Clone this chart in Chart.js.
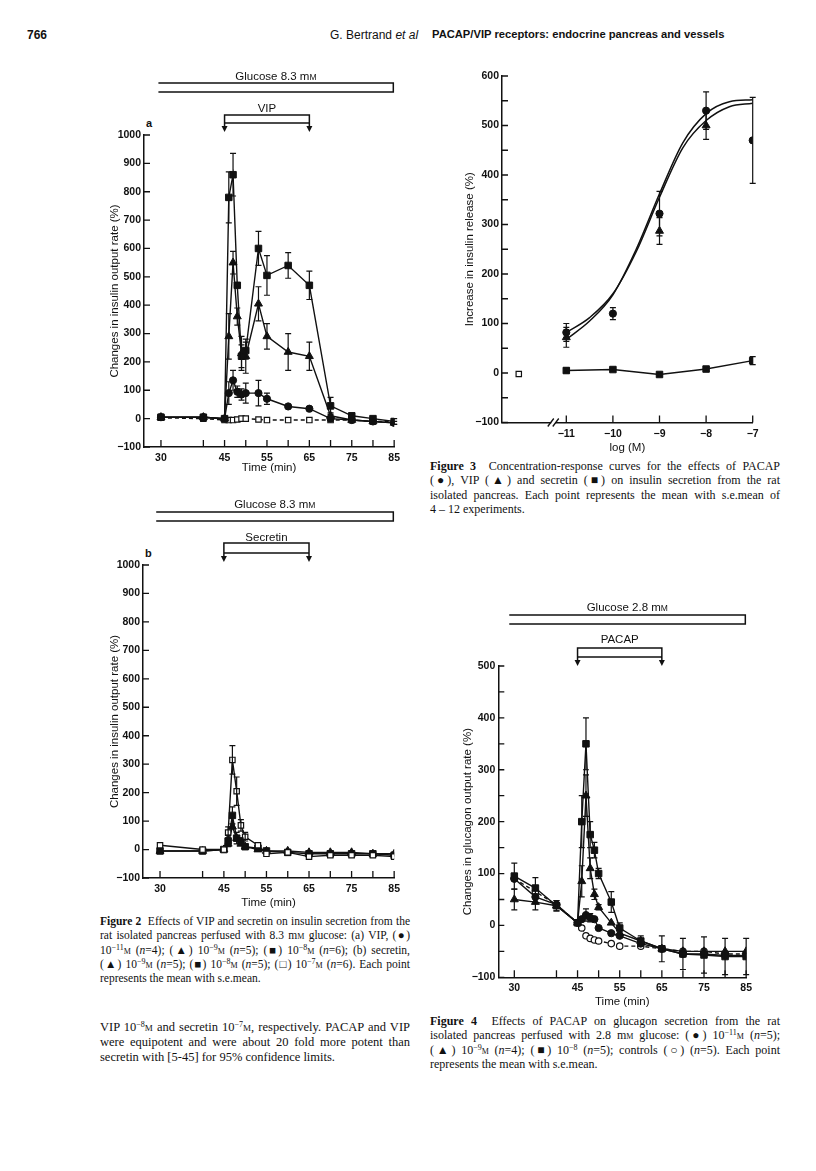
<!DOCTYPE html>
<html>
<head>
<meta charset="utf-8">
<script src="https://cdn.jsdelivr.net/npm/chart.js@4.4.0/dist/chart.umd.min.js"></script>
<style>
  body { margin: 0; background: #fff; }
  #page { position: relative; width: 816px; height: 1171px; overflow: hidden; color: #111; }
  canvas { position: absolute; }
  .hd { position: absolute; font-family: "Liberation Sans", Arial, sans-serif; white-space: nowrap; }
  .cap { position: absolute; font-family: "Liberation Serif", "Times New Roman", serif; font-size: 12px; line-height: 14.3px; }
  .cap div { white-space: nowrap; text-align: justify; text-align-last: justify; }
  .cap div.last { text-align: left; text-align-last: left; }
  .sc { font-variant: small-caps; }
  sup { font-size: 8px; line-height: 0; vertical-align: 4px; }
  .lbl { position: absolute; font-family: "Liberation Sans", Arial, sans-serif; font-weight: bold; font-size: 11px; }
</style>
</head>
<body>
<div id="page">
  <div class="hd" style="left:27px; top:28px; font-size:12px; font-weight:bold;">766</div>
  <div class="hd" style="left:330px; top:28px; font-size:12px;">G. Bertrand <i>et al</i></div>
  <div class="hd" style="left:432px; top:28px; font-size:11.2px; font-weight:bold;">PACAP/VIP receptors: endocrine pancreas and vessels</div>

  <div class="lbl" style="left:146px; top:117px;">a</div>
  <div class="lbl" style="left:145px; top:547px;">b</div>

  <canvas id="figA" width="307" height="410" style="left:98px; top:65px;"></canvas>
  <canvas id="figB" width="307" height="415" style="left:98px; top:495px;"></canvas>
  <canvas id="fig3" width="316" height="395" style="left:452px; top:60px;"></canvas>
  <canvas id="fig4" width="307" height="419" style="left:450px; top:590px;"></canvas>

  <div class="cap" style="left:100px; top:914px; width:310px; font-size:11.5px;">
    <div><b>Figure 2</b>&nbsp; Effects of VIP and secretin on insulin secretion from the</div>
    <div>rat isolated pancreas perfused with 8.3 m<span class="sc">m</span> glucose: (a) VIP, (●)</div>
    <div>10<sup>−11</sup><span class="sc">m</span> (<i>n</i>=4); (▲) 10<sup>−9</sup><span class="sc">m</span> (<i>n</i>=5); (■) 10<sup>−8</sup><span class="sc">m</span> (<i>n</i>=6); (b) secretin,</div>
    <div>(▲) 10<sup>−9</sup><span class="sc">m</span> (<i>n</i>=5); (■) 10<sup>−8</sup><span class="sc">m</span> (<i>n</i>=5); (□) 10<sup>−7</sup><span class="sc">m</span> (<i>n</i>=6). Each point</div>
    <div class="last">represents the mean with s.e.mean.</div>
  </div>

  <div class="cap" style="left:100px; top:1020px; width:310px; font-size:12.5px; line-height:15px;">
    <div>VIP 10<sup>−8</sup><span class="sc">m</span> and secretin 10<sup>−7</sup><span class="sc">m</span>, respectively. PACAP and VIP</div>
    <div>were equipotent and were about 20 fold more potent than</div>
    <div class="last">secretin with [5-45] for 95% confidence limits.</div>
  </div>

  <div class="cap" style="left:430px; top:459px; width:350px;">
    <div><b>Figure 3</b>&nbsp; Concentration-response curves for the effects of PACAP</div>
    <div>(●), VIP (▲) and secretin (■) on insulin secretion from the rat</div>
    <div>isolated pancreas. Each point represents the mean with s.e.mean of</div>
    <div class="last">4 – 12 experiments.</div>
  </div>

  <div class="cap" style="left:430px; top:1014px; width:350px;">
    <div><b>Figure 4</b>&nbsp; Effects of PACAP on glucagon secretion from the rat</div>
    <div>isolated pancreas perfused with 2.8 m<span class="sc">m</span> glucose: (●) 10<sup>−11</sup><span class="sc">m</span> (<i>n</i>=5);</div>
    <div>(▲) 10<sup>−9</sup><span class="sc">m</span> (<i>n</i>=4); (■) 10<sup>−8</sup> (<i>n</i>=5); controls (○) (<i>n</i>=5). Each point</div>
    <div class="last">represents the mean with s.e.mean.</div>
  </div>
</div>

<script>
// -----------------------------------------------------------------------------
// Data (values in %, times in min)
// -----------------------------------------------------------------------------

// Figure 2a - VIP, insulin output
const timesA = [30, 40, 45, 46, 47, 48, 49, 50, 53, 55, 60, 65, 70, 75, 80, 85];
const vip8A = [5, 5, 0, 780, 860, 470, 220, 240, 600, 505, 540, 470, 45, 10, 0, -10];
const vip8AErr = [10, 8, 0, 90, 75, 0, 40, 30, 60, 70, 45, 50, 30, 8, 8, 10];
const vip9A = [5, 5, 0, 290, 550, 360, 230, 220, 405, 290, 235, 220, 10, -5, -10, -15];
const vip9AErr = [5, 5, 0, 80, 40, 30, 60, 60, 60, 45, 65, 50, 10, 5, 5, 5];
const vip11A = [5, 5, 0, 90, 135, 95, 85, 90, 90, 70, 43, 35, 0, -5, -10, -15];
const vip11AErr = [5, 5, 0, 40, 35, 20, 20, 35, 45, 20, 0, 0, 0, 0, 0, 0];
const ctrlA = [3, 0, -5, -5, -5, -3, 0, 0, -3, -5, -5, -5, -5, -5, -10, -10];
const glucoseA = [29.4, 84.8];
const vipSpan = [45, 65];

// Figure 2b - secretin, insulin output
const timesB = [30, 40, 45, 46, 47, 48, 49, 50, 53, 55, 60, 65, 70, 75, 80, 85];
const sec7B = [15, 0, 0, 60, 315, 205, 85, 45, 15, -15, -10, -25, -20, -20, -20, -25];
const sec7BErr = [0, 0, 0, 20, 50, 50, 20, 15, 0, 0, 0, 0, 0, 0, 0, 0];
const sec8B = [-5, -5, 0, 30, 120, 40, 30, 10, 5, -5, -10, -15, -15, -15, -15, -20];
const sec8BErr = [0, 0, 0, 20, 30, 20, 10, 0, 0, 0, 0, 0, 0, 0, 0, 0];
const sec9B = [-5, -5, 0, 20, 80, 40, 20, 10, 0, -5, -5, -10, -10, -10, -15, -15];
const glucoseB = [29.1, 84.8];
const secretinSpan = [45, 65];

// Figure 3 - concentration-response (log M)
const logConc = [-11, -10, -9, -8, -7];
const pacap3 = [82, 120, 322, 530, 470];
const pacap3Err = [18, 12, 45, 38, 87];
const vip3 = [72, null, 287, 500, null];
const vip3Err = [20, 0, 27, 28, 0];
const secretin3 = [5, 7, -3, 8, 25];
const secretin3Err = [5, 3, 3, 5, 8];
const controlConc = [-12.02];
const control3 = [-2];
const fitConc = [-11, -10.5, -10, -9.5, -9, -8.5, -8, -7.5, -7];
const fitCurve1 = [82, 112, 160, 245, 355, 455, 510, 538, 545];
const fitCurve2 = [68, 105, 158, 250, 362, 465, 524, 548, 552];

// Figure 4 - PACAP, glucagon output
const times4 = [30, 35, 40, 45, 46, 47, 48, 49, 50, 53, 55, 60, 65, 70, 75, 80, 85];
const pacap8 = [95, 72, 38, 5, 200, 350, 175, 145, 100, 45, -5, -30, -45, -55, -57, -60, -60];
const pacap8Err = [25, 20, 10, 0, 50, 50, 25, 15, 10, 20, 10, 10, 25, 30, 35, 35, 35];
const pacap9 = [50, 45, 38, 5, 85, 250, 110, 60, 35, 5, -15, -30, -45, -50, -50, -50, -50];
const pacap9Err = [20, 15, 10, 0, 30, 40, 20, 10, 5, 0, 0, 0, 0, 0, 0, 0, 0];
const pacap11 = [90, 55, 40, 5, 12, 20, 15, 12, -5, -15, -20, -35, -45, -55, -55, -58, -58];
const pacap11Err = [0, 0, 0, 0, 0, 12, 8, 0, 0, 0, 0, 0, 0, 0, 0, 0, 0];
const ctrl4 = [90, 65, 40, 5, -5, -20, -25, -28, -30, -35, -40, -40, -45, -50, -50, -55, -55];
const glucose4 = [28.8, 84.8];
const pacapSpan = [45, 65];

// Axis ticks
const timeTickLabels = [30, 45, 55, 65, 75, 85];
const timeTickMarks = [30, 40, 45, 50, 55, 60, 65, 70, 75, 80, 85];
const insulinTickMarks = [-100, 0, 100, 200, 300, 400, 500, 600, 700, 800, 900, 1000];
const logTickLabels = [-11, -10, -9, -8, -7];
const releaseTickMarks = [-100, -50, 0, 50, 100, 150, 200, 250, 300, 350, 400, 450, 500, 550, 600];
const glucagonTickMarks = [-100, -50, 0, 50, 100, 150, 200, 250, 300, 350, 400, 450, 500];

// -----------------------------------------------------------------------------
// Styling helpers
// -----------------------------------------------------------------------------
const INK = '#111';
Chart.defaults.font.family = "'Liberation Sans', Arial, sans-serif";
Chart.defaults.color = INK;

const fmt = v => (v < 0 ? '\u2212' + Math.abs(v) : String(v));

const SQ = { pointStyle: 'rect', pointRadius: 4.6, pointBackgroundColor: INK };
const TRI = { pointStyle: 'triangle', pointRadius: 4.6, pointBackgroundColor: INK };
const DOT = { pointStyle: 'circle', pointRadius: 3.6, pointBackgroundColor: INK };
const OPEN_SQ = { pointStyle: 'rect', pointRadius: 3.8, pointBackgroundColor: '#fff', pointBorderWidth: 1.2 };
const OPEN_DOT = { pointStyle: 'circle', pointRadius: 3.2, pointBackgroundColor: '#fff', pointBorderWidth: 1.2 };
const DASH = { borderDash: [4, 3] };
const NOLINE = { showLine: false };

function series(xs, ys, errs, ...styles) {
    return Object.assign({
        data: xs.map((x, i) => ({ x: x, y: ys[i] })),
        borderColor: INK,
        backgroundColor: INK,
        borderWidth: 1.4,
        pointBorderColor: INK,
        pointBorderWidth: 1,
        tension: 0,
        errorBars: errs
    }, ...styles);
}

function xAxis(min, max, labels, title, height) {
    return {
        type: 'linear', min: min, max: max,
        grid: { display: false, drawTicks: false },
        border: { display: true, color: INK, width: 1.5 },
        afterBuildTicks: s => { s.ticks = labels.map(v => ({ value: v })); },
        afterFit: s => { s.height = height; },
        ticks: { padding: 5, autoSkip: false, maxRotation: 0, color: INK, font: { size: 10.5, weight: 'bold' }, callback: fmt },
        title: { display: true, text: title, color: INK, font: { size: 11.5 }, padding: 0 }
    };
}

function yAxis(min, max, title, width) {
    return {
        type: 'linear', min: min, max: max,
        grid: { display: false, drawTicks: false },
        border: { display: true, color: INK, width: 1.5 },
        afterFit: s => { s.width = width; },
        ticks: { stepSize: 100, padding: 3, color: INK, font: { size: 10.5, weight: 'bold' }, callback: fmt },
        title: { display: true, text: title, color: INK, font: { size: 11.5 }, padding: 0 }
    };
}

// Extra drawing per canvas: inward tick marks, treatment bars, axis break
const extras = {
    figA: {
        xMarks: timeTickMarks, yMarks: insulinTickMarks,
        treatments: [
            { span: glucoseA, open: true, top: -52, bottom: -43, labelY: -59, label: [['Glucose 8.3 m', 11.5], ['M', 8.5]] },
            { span: vipSpan, top: -20, bottom: -12, arrow: -3, labelY: -27, label: [['VIP', 11.5]] }
        ]
    },
    figB: {
        xMarks: timeTickMarks, yMarks: insulinTickMarks,
        treatments: [
            { span: glucoseB, open: true, top: -53, bottom: -44, labelY: -61, label: [['Glucose 8.3 m', 11.5], ['M', 8.5]] },
            { span: secretinSpan, top: -22, bottom: -12, arrow: -3, labelY: -28, label: [['Secretin', 11.5]] }
        ]
    },
    fig3: {
        xMarks: logTickLabels, yMarks: releaseTickMarks, axisBreak: -11.28
    },
    fig4: {
        xMarks: timeTickMarks, yMarks: glucagonTickMarks,
        treatments: [
            { span: glucose4, open: true, top: -51, bottom: -42, labelY: -59, label: [['Glucose 2.8 m', 11.5], ['M', 8.5]] },
            { span: pacapSpan, top: -18, bottom: -9, arrow: 0, labelY: -27, label: [['PACAP', 11.5]] }
        ]
    }
};

const paperPlugin = {
    id: 'paper',
    afterDatasetsDraw(chart) {
        // s.e.mean bars
        const ctx = chart.ctx;
        const ys = chart.scales.y;
        ctx.save();
        ctx.strokeStyle = INK;
        ctx.lineWidth = 1.2;
        chart.data.datasets.forEach((ds, i) => {
            if (!ds.errorBars) return;
            const meta = chart.getDatasetMeta(i);
            ds.data.forEach((p, j) => {
                const e = ds.errorBars[j];
                if (p.y == null || !e) return;
                const x = meta.data[j].x;
                const hi = ys.getPixelForValue(p.y + e);
                const lo = ys.getPixelForValue(p.y - e);
                ctx.beginPath();
                ctx.moveTo(x, hi); ctx.lineTo(x, lo);
                ctx.moveTo(x - 3, hi); ctx.lineTo(x + 3, hi);
                ctx.moveTo(x - 3, lo); ctx.lineTo(x + 3, lo);
                ctx.stroke();
            });
        });
        ctx.restore();
    },
    afterDraw(chart) {
        const ex = extras[chart.canvas.id];
        if (!ex) return;
        const ctx = chart.ctx;
        const xs = chart.scales.x, ys = chart.scales.y;
        const area = chart.chartArea;
        ctx.save();
        ctx.strokeStyle = INK;
        ctx.fillStyle = INK;
        ctx.lineWidth = 1.3;

        // inward tick marks
        ctx.beginPath();
        ex.xMarks.forEach(v => {
            const px = xs.getPixelForValue(v);
            ctx.moveTo(px, area.bottom); ctx.lineTo(px, area.bottom - 7);
        });
        ex.yMarks.forEach(v => {
            const py = ys.getPixelForValue(v);
            ctx.moveTo(area.left, py); ctx.lineTo(area.left + 6, py);
        });
        ctx.stroke();

        // axis break on the log axis
        if (ex.axisBreak != null) {
            const px = xs.getPixelForValue(ex.axisBreak);
            ctx.fillStyle = '#fff';
            ctx.fillRect(px - 2, area.bottom - 2, 4, 4);
            ctx.fillStyle = INK;
            ctx.beginPath();
            [-2.5, 2.5].forEach(d => {
                ctx.moveTo(px + d - 3, area.bottom + 4);
                ctx.lineTo(px + d + 3, area.bottom - 4);
            });
            ctx.stroke();
        }

        // treatment bars and brackets
        (ex.treatments || []).forEach(t => {
            const x1 = xs.getPixelForValue(t.span[0]);
            const x2 = xs.getPixelForValue(t.span[1]);
            const top = area.top + t.top, bot = area.top + t.bottom;
            ctx.lineWidth = 1.5;
            ctx.beginPath();
            if (t.open) {
                ctx.moveTo(x1, top); ctx.lineTo(x2, top); ctx.lineTo(x2, bot); ctx.lineTo(x1, bot);
            } else {
                ctx.rect(x1, top, x2 - x1, bot - top);
                const tip = area.top + t.arrow;
                [x1, x2].forEach(px => { ctx.moveTo(px, bot); ctx.lineTo(px, tip - 4); });
            }
            ctx.stroke();
            if (!t.open) {
                const tip = area.top + t.arrow;
                [x1, x2].forEach(px => {
                    ctx.beginPath();
                    ctx.moveTo(px - 3, tip - 6); ctx.lineTo(px + 3, tip - 6); ctx.lineTo(px, tip);
                    ctx.closePath();
                    ctx.fill();
                });
            }
            // label, with small-capital M where needed
            let total = 0;
            t.label.forEach(([txt, size]) => {
                ctx.font = size + "px 'Liberation Sans', Arial, sans-serif";
                total += ctx.measureText(txt).width;
            });
            let cx = (x1 + x2) / 2 - total / 2;
            const base = area.top + t.labelY + 4;
            ctx.textBaseline = 'alphabetic';
            ctx.textAlign = 'left';
            t.label.forEach(([txt, size]) => {
                ctx.font = size + "px 'Liberation Sans', Arial, sans-serif";
                ctx.fillText(txt, cx, base);
                cx += ctx.measureText(txt).width;
            });
        });
        ctx.restore();
    }
};

function makeChart(id, datasets, x, y, pad) {
    return new Chart(document.getElementById(id), {
        type: 'line',
        data: { datasets: datasets },
        options: {
            responsive: false,
            animation: false,
            devicePixelRatio: 1,
            layout: { padding: pad },
            plugins: { legend: { display: false }, tooltip: { enabled: false } },
            scales: { x: x, y: y }
        },
        plugins: [paperPlugin]
    });
}

// -----------------------------------------------------------------------------
// Charts
// -----------------------------------------------------------------------------
makeChart('figA', [
    series(timesA, vip8A, vip8AErr, SQ),
    series(timesA, vip9A, vip9AErr, TRI),
    series(timesA, vip11A, vip11AErr, DOT),
    series(timesA, ctrlA, null, OPEN_SQ, DASH)
],
    xAxis(26, 85, timeTickLabels, 'Time (min)', 28),
    yAxis(-100, 1000, 'Changes in insulin output rate (%)', 36),
    { left: 10, top: 70, right: 10, bottom: 0 });

makeChart('figB', [
    series(timesB, sec7B, sec7BErr, OPEN_SQ),
    series(timesB, sec8B, sec8BErr, SQ),
    series(timesB, sec9B, null, TRI)
],
    xAxis(26, 85, timeTickLabels, 'Time (min)', 32),
    yAxis(-100, 1000, 'Changes in insulin output rate (%)', 35),
    { left: 10, top: 70, right: 10, bottom: 0 });

makeChart('fig3', [
    series(logConc, pacap3, pacap3Err, DOT, NOLINE),
    series(logConc, vip3, vip3Err, TRI, NOLINE),
    series(logConc, secretin3, secretin3Err, SQ),
    series(controlConc, control3, null, OPEN_SQ, NOLINE),
    series(fitConc, fitCurve1, null, { pointRadius: 0, cubicInterpolationMode: 'monotone', borderWidth: 1.5 }),
    series(fitConc, fitCurve2, null, { pointRadius: 0, cubicInterpolationMode: 'monotone', borderWidth: 1.5 })
],
    xAxis(-12.38, -7, logTickLabels, 'log (M)', 32.5),
    yAxis(-100, 600, 'Increase in insulin release (%)', 39),
    { left: 11, top: 16, right: 15.3, bottom: 0 });

makeChart('fig4', [
    series(times4, pacap8, pacap8Err, SQ),
    series(times4, pacap9, pacap9Err, TRI),
    series(times4, pacap11, pacap11Err, DOT),
    series(times4, ctrl4, null, OPEN_DOT, DASH)
],
    xAxis(26.2, 85, timeTickLabels, 'Time (min)', 31.7),
    yAxis(-100, 500, 'Changes in glucagon output rate (%)', 37.3),
    { left: 11, top: 76, right: 10.3, bottom: 0 });
</script>
</body>
</html>
